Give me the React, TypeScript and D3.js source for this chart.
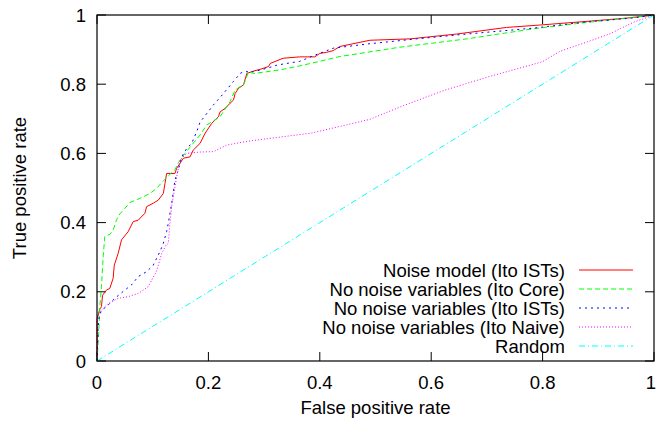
import React from "react";
import * as d3 from "d3";

const W = 657, H = 421;
const M = { left: 97, right: 654, top: 15, bottom: 361 };

const ticks = [0, 0.2, 0.4, 0.6, 0.8, 1];
const tickLabels = ["0", "0.2", "0.4", "0.6", "0.8", "1"];

const seriesNames = [
  "Noise model (Ito ISTs)",
  "No noise variables (Ito Core)",
  "No noise variables (Ito ISTs)",
  "No noise variables (Ito Naive)",
  "Random",
];

const noiseModel: [number, number][] = [
  [0, 0], [0, 0.12], [0.005, 0.15], [0.008, 0.157], [0.01, 0.19], [0.017, 0.205], [0.023, 0.21],
  [0.029, 0.239], [0.031, 0.277], [0.038, 0.311], [0.044, 0.35], [0.056, 0.374], [0.065, 0.403],
  [0.074, 0.407], [0.086, 0.427], [0.089, 0.446], [0.101, 0.456], [0.11, 0.465], [0.119, 0.484],
  [0.122, 0.513], [0.125, 0.542], [0.14, 0.542], [0.143, 0.557], [0.149, 0.571], [0.155, 0.586],
  [0.167, 0.59], [0.173, 0.61], [0.185, 0.629], [0.194, 0.658], [0.206, 0.687], [0.218, 0.706],
  [0.221, 0.72], [0.23, 0.73], [0.239, 0.745], [0.245, 0.754], [0.248, 0.773], [0.254, 0.788],
  [0.263, 0.798], [0.269, 0.831], [0.281, 0.838], [0.293, 0.843], [0.308, 0.851], [0.311, 0.86],
  [0.334, 0.875], [0.364, 0.879], [0.391, 0.879], [0.4, 0.889], [0.412, 0.892], [0.424, 0.897],
  [0.436, 0.909], [0.49, 0.927], [0.562, 0.931], [0.646, 0.945], [0.735, 0.964], [0.795, 0.971],
  [0.867, 0.98], [0.951, 0.991], [0.99, 0.998], [1, 1],
];

const itoCore: [number, number][] = [
  [0, 0], [0.003, 0.08], [0.005, 0.157], [0.008, 0.215], [0.011, 0.3], [0.013, 0.34], [0.014, 0.36],
  [0.023, 0.366], [0.029, 0.378], [0.035, 0.408], [0.041, 0.425], [0.05, 0.441], [0.059, 0.458],
  [0.077, 0.47], [0.095, 0.484], [0.107, 0.499], [0.116, 0.515], [0.128, 0.535], [0.14, 0.553],
  [0.146, 0.573], [0.158, 0.6], [0.17, 0.624], [0.185, 0.653], [0.197, 0.682], [0.212, 0.697],
  [0.221, 0.706], [0.239, 0.75], [0.248, 0.783], [0.257, 0.793], [0.263, 0.798], [0.269, 0.822],
  [0.272, 0.836], [0.281, 0.831], [0.305, 0.836], [0.334, 0.843], [0.364, 0.853], [0.397, 0.865],
  [0.436, 0.88], [0.544, 0.907], [0.664, 0.931], [0.783, 0.96], [0.855, 0.974], [0.933, 0.988], [1, 1],
];

const itoISTs: [number, number][] = [
  [0, 0], [0.002, 0.1], [0.004, 0.128], [0.008, 0.147], [0.017, 0.157], [0.032, 0.181], [0.05, 0.205],
  [0.062, 0.22], [0.074, 0.244], [0.089, 0.258], [0.101, 0.277], [0.113, 0.316], [0.119, 0.34],
  [0.125, 0.374], [0.128, 0.398], [0.131, 0.427], [0.135, 0.465], [0.14, 0.523], [0.146, 0.552],
  [0.152, 0.59], [0.161, 0.614], [0.17, 0.629], [0.179, 0.663], [0.185, 0.69], [0.209, 0.74],
  [0.227, 0.773], [0.245, 0.808], [0.257, 0.831], [0.263, 0.836], [0.281, 0.836], [0.305, 0.846],
  [0.323, 0.855], [0.34, 0.86], [0.364, 0.866], [0.388, 0.882], [0.424, 0.904], [0.484, 0.916],
  [0.574, 0.931], [0.664, 0.945], [0.783, 0.962], [0.873, 0.979], [0.96, 0.991], [1, 1],
];

const itoNaive: [number, number][] = [
  [0, 0], [0.001, 0.12], [0.002, 0.138], [0.008, 0.147], [0.02, 0.166], [0.038, 0.181], [0.056, 0.186],
  [0.074, 0.195], [0.092, 0.215], [0.107, 0.26], [0.116, 0.31], [0.124, 0.335], [0.128, 0.34],
  [0.131, 0.398], [0.134, 0.446], [0.14, 0.504], [0.143, 0.532], [0.149, 0.581], [0.161, 0.6],
  [0.185, 0.604], [0.209, 0.605], [0.233, 0.624], [0.27, 0.635], [0.386, 0.659], [0.489, 0.698],
  [0.55, 0.738], [0.623, 0.782], [0.702, 0.821], [0.8, 0.865], [0.831, 0.895], [0.885, 0.925],
  [0.92, 0.945], [0.963, 0.979], [1, 1],
];

const random: [number, number][] = [[0, 0], [1, 1]];

const allSeries = [noiseModel, itoCore, itoISTs, itoNaive, random];
const colors = ["#ff0000", "#00ff00", "#0000ff", "#ff00ff", "#00ffff"];
const dashes = ["none", "5,3", "2,4", "1,2", "6,3,1,3"];

export default function App() {
  const x = d3.scaleLinear().domain([0, 1]).range([M.left, M.right]);
  const y = d3.scaleLinear().domain([0, 1]).range([M.bottom, M.top]);
  const line = d3.line<[number, number]>().x((d) => x(d[0])).y((d) => y(d[1]));
  const font = "'Liberation Sans', Arial, sans-serif";
  const fs = 18.5;
  const tl = 9;
  const legX = 565;
  const legY0 = 270;
  const legDy = 19;

  return (
    <svg width={W} height={H} style={{ position: "absolute", left: 0, top: 0, background: "#fff" }}
      fontFamily={font} fontSize={fs}>
      <rect x={0} y={0} width={W} height={H} fill="#fff" />
      {ticks.map((t, i) => (
        <g key={"t" + i} stroke="#000" strokeWidth={1}>
          <line x1={x(t)} x2={x(t)} y1={M.bottom} y2={M.bottom - tl} />
          <line x1={x(t)} x2={x(t)} y1={M.top} y2={M.top + tl} />
          <line x1={M.left} x2={M.left + tl} y1={y(t)} y2={y(t)} />
          <line x1={M.right} x2={M.right - tl} y1={y(t)} y2={y(t)} />
        </g>
      ))}
      {ticks.map((t, i) => (
        <text key={"xl" + i} x={Math.min(x(t), 651)} y={389} textAnchor="middle" fill="#000">{tickLabels[i]}</text>
      ))}
      {ticks.map((t, i) => (
        <text key={"yl" + i} x={86} y={y(t) + 6.5} textAnchor="end" fill="#000">{tickLabels[i]}</text>
      ))}
      <text x={(M.left + M.right) / 2} y={414} textAnchor="middle" fill="#000">False positive rate</text>
      <text transform={`translate(26,${(M.top + M.bottom) / 2}) rotate(-90)`} textAnchor="middle" fill="#000">True positive rate</text>
      {allSeries.map((s, i) => (
        <path key={"s" + i} d={line(s) || ""} fill="none" stroke={colors[i]} strokeWidth={1}
          strokeDasharray={dashes[i]} />
      ))}
      {seriesNames.map((n, i) => (
        <g key={"lg" + i}>
          <text x={legX} y={legY0 + i * legDy + 6.5} textAnchor="end" fill="#000">{n}</text>
          <line x1={579} x2={633} y1={legY0 + i * legDy} y2={legY0 + i * legDy} stroke={colors[i]}
            strokeWidth={1} strokeDasharray={dashes[i]} />
        </g>
      ))}
      <rect x={M.left} y={M.top} width={M.right - M.left} height={M.bottom - M.top} fill="none"
        stroke="#000" strokeWidth={1.2} />
    </svg>
  );
}
